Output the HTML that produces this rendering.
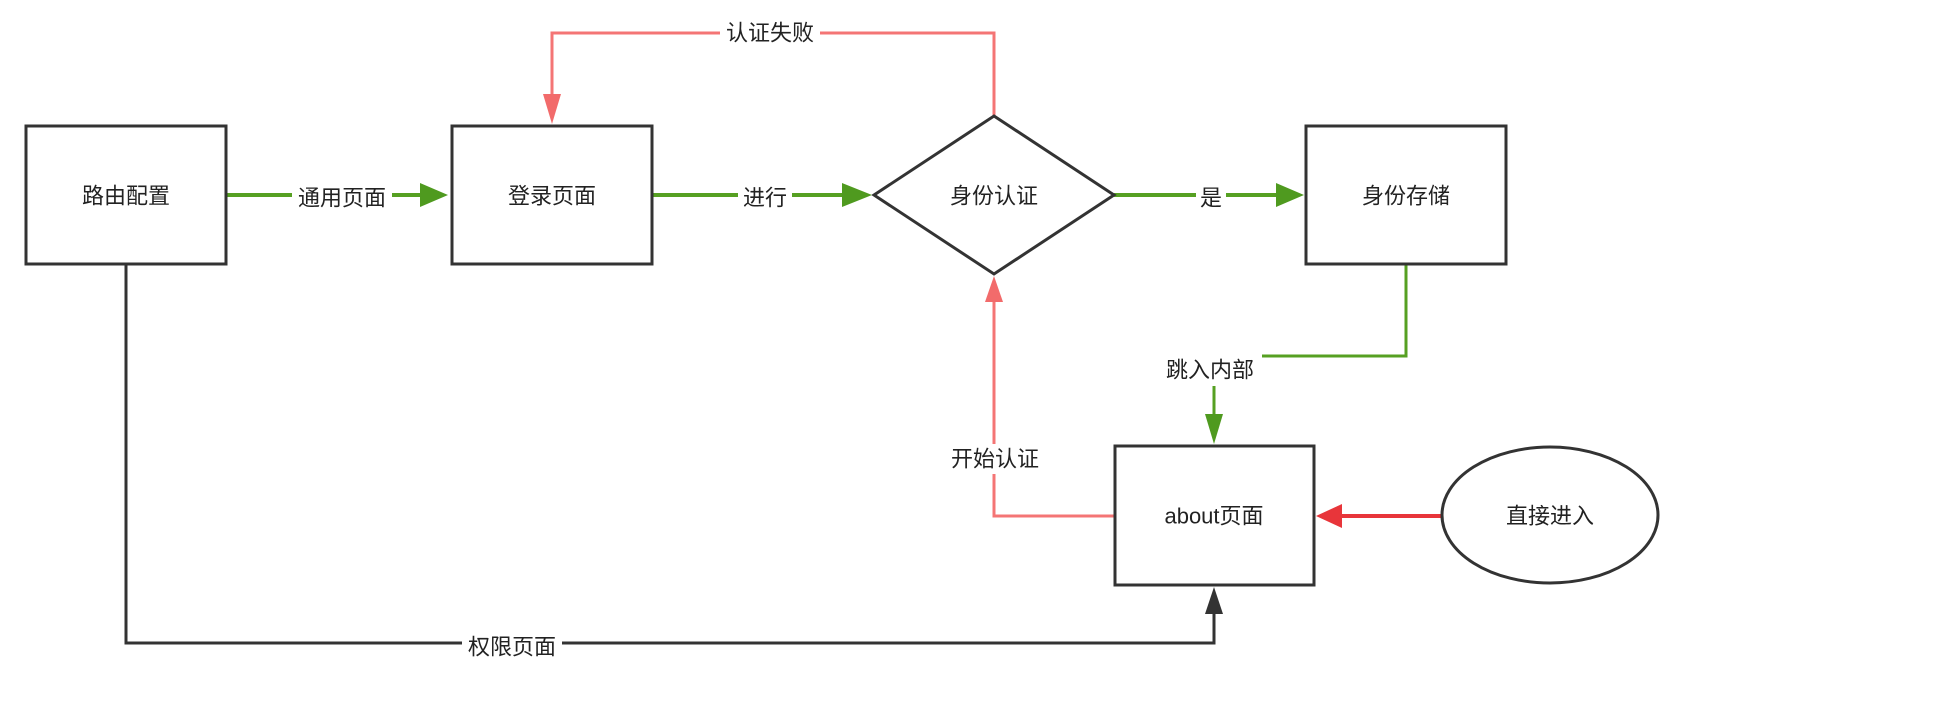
<!DOCTYPE html>
<html><head><meta charset="utf-8"><style>
html,body{margin:0;padding:0;background:#fff;width:1936px;height:706px;overflow:hidden}
text{font-family:"Liberation Sans","Noto Sans CJK SC",sans-serif;font-size:22px;fill:#222}
</style></head><body>
<svg width="1936" height="706" viewBox="0 0 1936 706" xmlns="http://www.w3.org/2000/svg">
<g stroke="#56a022" stroke-width="4" fill="none">
<line x1="226" y1="195" x2="425" y2="195"/>
<line x1="652" y1="195" x2="848" y2="195"/>
<line x1="1114" y1="195" x2="1280" y2="195"/>
<polyline points="1406,264 1406,356 1262,356" stroke-width="3"/>
<line x1="1214" y1="386" x2="1214" y2="420" stroke-width="3"/>
</g>
<g fill="#4f9a1f">
<polygon points="420,183 448,195 420,207"/>
<polygon points="842,183 872,195 842,207"/>
<polygon points="1276,183 1304,195 1276,207"/>
<polygon points="1205,414 1214,444 1223,414"/>
</g>
<g stroke="#f47575" stroke-width="3" fill="none">
<polyline points="994,116 994,33 552,33 552,100"/>
<polyline points="1115,516 994,516 994,300"/>
</g>
<polygon points="543,94 552,124 561,94" fill="#f26b6b"/>
<polygon points="985,302 994,276 1003,302" fill="#f26b6b"/>
<line x1="1442" y1="516" x2="1340" y2="516" stroke="#e8353a" stroke-width="4"/>
<polygon points="1342,504 1316,516 1342,528" fill="#e8353a"/>
<polyline points="126,264 126,643 1214,643 1214,610" stroke="#333" stroke-width="3" fill="none"/>
<polygon points="1205,614 1214,587 1223,614" fill="#333"/>
<g stroke="#333" stroke-width="3" fill="#fff">
<rect x="26" y="126" width="200" height="138"/>
<rect x="452" y="126" width="200" height="138"/>
<polygon points="994,116 1114,195 994,274 874,195"/>
<rect x="1306" y="126" width="200" height="138"/>
<rect x="1115" y="446" width="199" height="139"/>
<ellipse cx="1550" cy="515" rx="108" ry="68"/>
</g>
<g fill="#fff">
<rect x="292" y="180" width="100" height="30"/>
<rect x="738" y="180" width="54" height="30"/>
<rect x="1196" y="180" width="30" height="30"/>
<rect x="720" y="18" width="100" height="30"/>
<rect x="944" y="444" width="100" height="30"/>
<rect x="462" y="628" width="100" height="30"/>
</g>
<g text-anchor="middle" dominant-baseline="central">
<text x="126" y="196">路由配置</text>
<text x="552" y="196">登录页面</text>
<text x="994" y="196">身份认证</text>
<text x="1406" y="196">身份存储</text>
<text x="1214" y="516">about页面</text>
<text x="1550" y="516">直接进入</text>
<text x="342" y="198">通用页面</text>
<text x="765" y="198">进行</text>
<text x="1211" y="198">是</text>
<text x="770" y="33">认证失败</text>
<text x="1210" y="370">跳入内部</text>
<text x="995" y="459">开始认证</text>
<text x="512" y="647">权限页面</text>
</g>
</svg>
</body></html>
